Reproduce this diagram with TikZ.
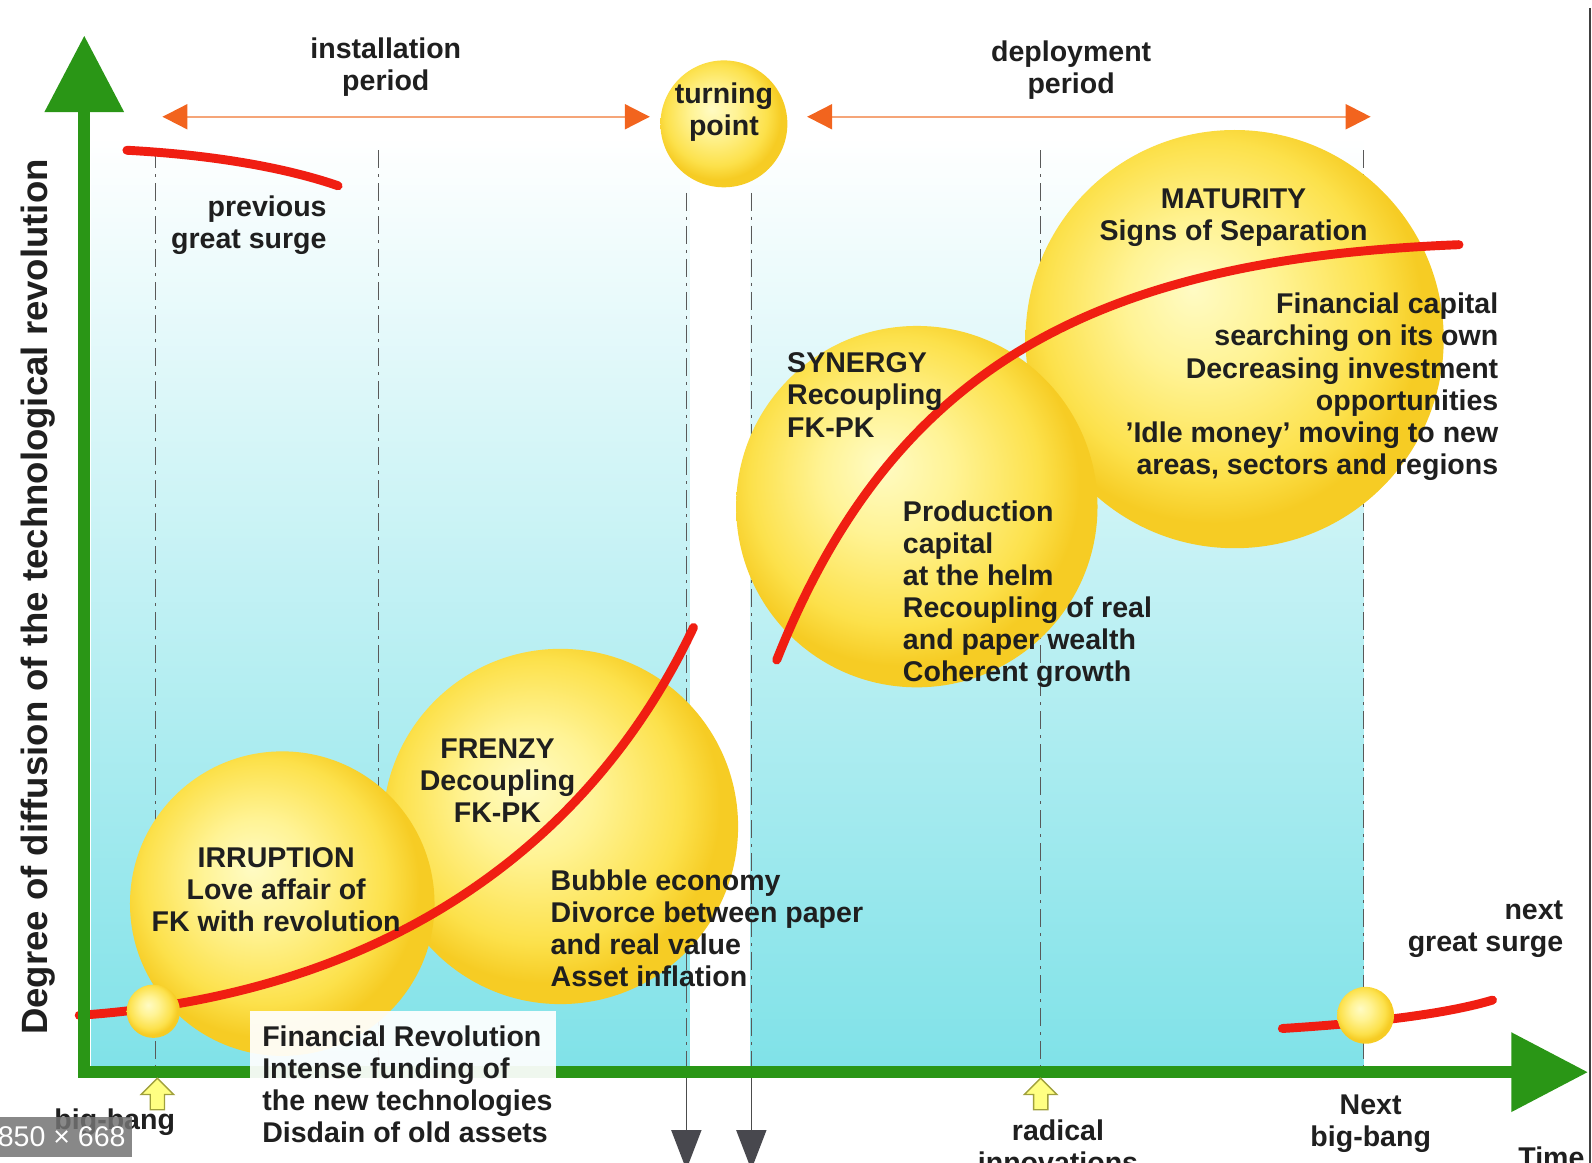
\documentclass[tikz,border=0pt]{standalone}
\usepackage{fontspec}
\setmainfont{Liberation Sans}
\usetikzlibrary{arrows.meta}

\definecolor{axisgreen}{RGB}{42,150,22}
\definecolor{surgered}{RGB}{240,30,18}
\definecolor{periodorange}{RGB}{242,100,30}
\definecolor{periodline}{RGB}{245,165,120}
\definecolor{cyanbg}{RGB}{128,226,232}
\definecolor{bubhi}{RGB}{255,251,196}
\definecolor{bubmid}{RGB}{255,234,92}
\definecolor{bubedge}{RGB}{246,204,36}
\definecolor{markgray}{RGB}{72,72,78}
\definecolor{arrowyellow}{RGB}{255,255,130}
\definecolor{arrowolive}{RGB}{160,160,60}

\pgfdeclareradialshading{bubble}{\pgfqpoint{-5bp}{6bp}}{color(0bp)=(bubhi); color(9bp)=(bubhi!55!bubmid); color(20bp)=(bubmid!70!bubedge); color(25bp)=(bubedge); color(50bp)=(bubedge)}

\begin{document}
\begin{tikzpicture}[x=0.02cm, y=-0.02cm,
    txt/.style={font=\bfseries\fontsize{16}{18}\selectfont, text=black!88, inner sep=0pt},
    ball/.style={circle, shading=bubble, inner sep=0pt},
    surge/.style={surgered, line width=5pt, line cap=round},
    axis/.style={axisgreen, line width=6.5pt, -{Triangle[width=43pt,length=43pt]}},
    period/.style={periodline, line width=1.2pt,
        {Triangle[width=14pt,length=14pt,color=periodorange]}-{Triangle[width=14pt,length=14pt,color=periodorange]}},
    phase/.style={gray!70!black, line width=0.8pt, dash pattern=on 10pt off 3.5pt on 1.5pt off 3.5pt}]
    \useasboundingbox (0,0) rectangle (1568,1145);

    % background
    \shade[top color=white, bottom color=cyanbg] (90,135) rectangle (1343,1050);
    \fill[white] (680,135) rectangle (739,1050);

    % phase borders
    \foreach \px in {153,373,1025,1343}
        \draw[phase] (\px,148) -- (\px,1052);
    \foreach \px in {676,740}
        \draw[phase] (\px,190) -- (\px,1052);

    % the four phases
    \node[ball, minimum size=7cm] (frenzy) at (552,814) {};
    \node[ball, minimum size=6cm] (irruption) at (278,890) {};
    \node[ball, minimum size=8.24cm] (maturity) at (1216,334) {};
    \node[ball, minimum size=7.12cm] (synergy) at (903,499) {};
    \node[ball, minimum size=2.5cm] (turning) at (713,122) {};

    % surges
    \draw[surge] (125,148) .. controls (200,152) and (275,163) .. (333,183);
    \draw[surge] (78,1000) .. controls (400,978) and (590,815) .. (683,618);
    \draw[surge] (765,650) .. controls (880,360) and (1080,255) .. (1437,241);
    \draw[surge] (1263,1013) .. controls (1310,1010) and (1410,1003) .. (1470,985);

    \node[ball, minimum size=1.05cm] (bigbang) at (151,996) {};
    \node[ball, minimum size=1.12cm] (nextbang) at (1345,1000) {};

    % axes
    \draw[axis] (83,1061) -- (83,35);
    \draw[axis] (77,1056) -- (1564,1056);

    \fill[white, opacity=0.93] (246,996) rectangle (548,1125);

    % periods
    \draw[period] (160,115) -- (640,115);
    \draw[period] (795,115) -- (1350,115);

    % below the time axis
    \foreach \px in {676,740} {
        \draw[gray!60!black, line width=0.8pt] (\px,1062) -- (\px,1115);
        \fill[markgray] (\px-15,1113) -- (\px+15,1113) -- (\px,1152) -- cycle;
    }
    \foreach \px in {155,1025}
        \filldraw[fill=arrowyellow, draw=arrowolive, line width=0.8pt]
            (\px,1062) -- (\px+16,1078) -- (\px+7,1078) -- (\px+7,1093)
            -- (\px-7,1093) -- (\px-7,1078) -- (\px-16,1078) -- cycle;

    % labels
    \node[txt, rotate=90, font=\bfseries\fontsize{20.5}{22}\selectfont] (ylabel) at (38,588) {Degree of diffusion of the technological revolution};
    \node[txt, align=center] (install) at (380,66) {installation\\period};
    \node[txt, align=center] (turnlabel) at (713,110) {turning\\point};
    \node[txt, align=center] (deploy) at (1055,69) {deployment\\period};
    \node[txt, align=right, anchor=east] (prevsurge) at (322,222) {previous\\great surge};
    \node[txt, align=center] (maturitylabel) at (1215,214) {MATURITY\\Signs of Separation};
    \node[txt, align=right, anchor=east] (maturitytext) at (1476,381) {Financial capital\\searching on its own\\Decreasing investment\\opportunities\\'Idle money' moving to new\\areas, sectors and regions};
    \node[txt, align=left, anchor=west] (synergylabel) at (775,389) {SYNERGY\\Recoupling\\FK-PK};
    \node[txt, align=left, anchor=west] (synergytext) at (889,585) {Production\\capital\\at the helm\\Recoupling of real\\and paper wealth\\Coherent growth};
    \node[txt, align=center] (frenzylabel) at (490,769) {FRENZY\\Decoupling\\FK-PK};
    \node[txt, align=left, anchor=west] (frenzytext) at (542,914) {Bubble economy\\Divorce between paper\\and real value\\Asset inflation};
    \node[txt, align=center] (irruptionlabel) at (272,876) {IRRUPTION\\Love affair of\\FK with revolution};
    \node[txt, align=left, anchor=west] (finrev) at (258,1068) {Financial Revolution\\Intense funding of\\the new technologies\\Disdain of old assets};
    \node[txt, align=right, anchor=east] (nextsurge) at (1540,915) {next\\great surge};
    \node[txt] (bigbanglabel) at (113,1105) {big-bang};
    \node[txt, align=center] (radical) at (1042,1129) {radical\\innovations};
    \node[txt, align=center] (nextbanglabel) at (1350,1107) {Next\\big-bang};
    \node[txt] (timelabel) at (1528,1140) {Time};

    % size tag and edge
    \fill[black!55, opacity=0.85] (0,1100) rectangle (130,1140);
    \node[font=\fontsize{16}{16}\selectfont, text=white, anchor=east, inner sep=0pt] (sizetag) at (124,1120) {850 × 668};
    \draw[black!75, line width=0.7pt] (1566,8) -- (1566,1145);
\end{tikzpicture}
\end{document}
